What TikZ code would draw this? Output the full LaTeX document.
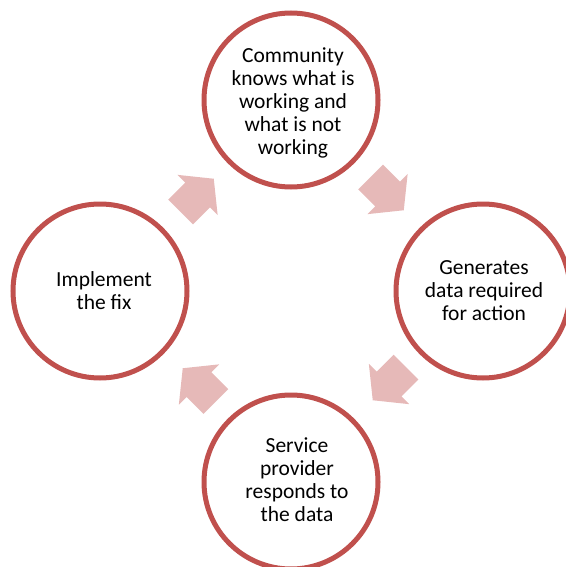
\documentclass[tikz,border=0pt]{standalone}
\usepackage{fontspec}
\setmainfont{Carlito}
\definecolor{ringred}{HTML}{C0504D}
\definecolor{arrowpink}{HTML}{E6B9B8}
\begin{document}
\begin{tikzpicture}[x=1pt,y=-1pt,
  ring/.style={circle, draw=ringred, line width=5pt, fill=white, minimum size=174pt, inner sep=0pt},
  lbl/.style={align=center, text=black, font=\fontsize{21.5}{23}\selectfont, inner sep=0pt},
  blockarrow/.style={fill=arrowpink}]
\useasboundingbox (0,0) rectangle (565,567);
% circles
\node[ring] (top) at (291,100) {};
\node[ring] (right) at (483,291) {};
\node[ring] (bottom) at (291,482) {};
\node[ring] (left) at (100,291) {};
% labels
\node[lbl] (ttop) at (293,103) {Community\\knows what is\\working and\\what is not\\working};
\node[lbl] (tright) at (484,291) {Generates\\data required\\for action};
\node[lbl] (tbottom) at (297,480) {Service\\provider\\responds to\\the data};
\node[lbl] (tleft) at (104,291) {Implement\\the fix};
% block arrows (local: tail at -24, head base at 0, tip at 23)
\def\blockarrowpath{(-24,-17.5) -- (0,-17.5) -- (0,-28.5) -- (23,0) -- (0,28.5) -- (0,17.5) -- (-24,17.5) -- cycle}
\begin{scope}[shift={(197.5,195)}, rotate=45]
  \fill[blockarrow] \blockarrowpath;
\end{scope}
\begin{scope}[shift={(387.5,194)}, rotate=-45]
  \fill[blockarrow] \blockarrowpath;
\end{scope}
\begin{scope}[shift={(389,384)}, rotate=-135]
  \fill[blockarrow] \blockarrowpath;
\end{scope}
\begin{scope}[shift={(199,384.5)}, rotate=135]
  \fill[blockarrow] \blockarrowpath;
\end{scope}
\end{tikzpicture}
\end{document}
